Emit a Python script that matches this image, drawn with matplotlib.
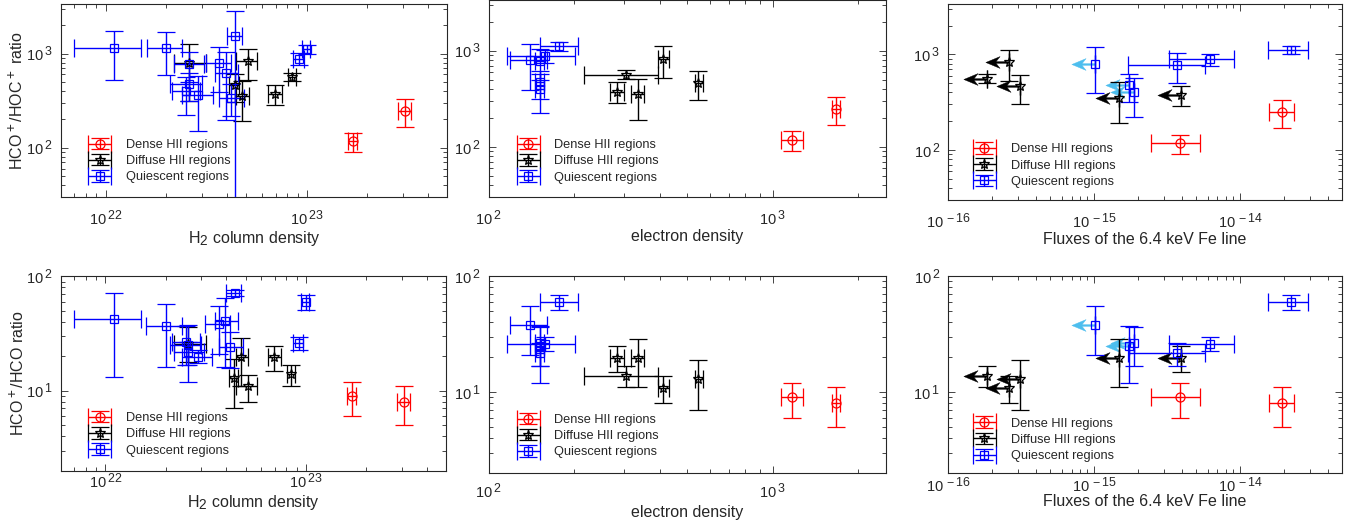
import numpy as np
import matplotlib
matplotlib.use("Agg")
import matplotlib.pyplot as plt
import matplotlib._mathtext as _mt
from matplotlib.path import Path
from matplotlib.markers import MarkerStyle
from matplotlib.ticker import FuncFormatter, FixedLocator, NullFormatter
from matplotlib.container import ErrorbarContainer
from matplotlib.legend_handler import HandlerErrorbar

nan = np.nan

# ---------------- Dense HII regions ----------------
dense_nh2 = [1.69e23, 3.07e23]
dense_nh2_lo = [1.61e23, 2.85e23]
dense_nh2_hi = [1.77e23, 3.30e23]
dense_ne = [1172, 1667]
dense_ne_lo = [1074, 1624]
dense_ne_hi = [1279, 1723]
dense_flux = [3.88e-15, 1.94e-14]
dense_flux_lo = [2.44e-15, 1.57e-14]
dense_flux_hi = [5.34e-15, 2.33e-14]
dense_flux_ul = [False, False]
dense_hoc = [118, 248]
dense_hoc_lo = [90, 168]
dense_hoc_hi = [145, 332]
dense_hco = [9.0, 8.0]
dense_hco_lo = [6.0, 5.0]
dense_hco_hi = [12.0, 11.0]

# ---------------- Diffuse HII regions ----------------
diff_nh2 = [2.59e22, 4.38e22, 4.77e22, 5.13e22, 6.95e22, 8.46e22]
diff_nh2_lo = [2.20e22, 4.12e22, 4.46e22, 4.46e22, 6.44e22, 8.09e22]
diff_nh2_hi = [3.17e22, 4.60e22, 5.17e22, 5.67e22, 7.50e22, 8.85e22]
diff_ne = [nan, 547, 335, 411, 283, 305]
diff_ne_lo = [nan, 531, 317, 394, 268, 216]
diff_ne_hi = [nan, 569, 351, 431, 299, 394]
diff_flux = [nan, 3.08e-16, 1.48e-15, 2.61e-16, 3.93e-15, 1.85e-16]
diff_flux_lo = [nan, 3.08e-16, 1.48e-15, 2.61e-16, 3.93e-15, 1.85e-16]
diff_flux_hi = [nan, 3.08e-16, 1.48e-15, 2.61e-16, 3.93e-15, 1.85e-16]
diff_flux_ul = [True, True, True, True, True, True]
diff_hoc = [786, 464, 352, 824, 373, 558]
diff_hoc_lo = [315, 306, 190, 523, 285, 507]
diff_hoc_hi = [1256, 612, 513, 1120, 469, 624]
diff_hco = [25.5, 13.0, 19.8, 10.9, 19.8, 13.9]
diff_hco_lo = [18.0, 7.0, 11.0, 8.0, 15.0, 11.1]
diff_hco_hi = [36.0, 19.0, 28.8, 13.8, 24.8, 16.9]

# ---------------- Quiescent regions ----------------
qui_nh2 = [1.10e22, 2.00e22, 4.41e22, 2.59e22, 2.59e22, 2.51e22,
           3.67e22, 3.95e22, 4.20e22, 9.20e22, 1.00e23, 2.89e22]
qui_nh2_lo = [6.97e21, 1.60e22, 4.00e22, 2.20e22, 2.10e22, 2.15e22,
              3.15e22, 3.50e22, 3.67e22, 8.59e22, 9.48e22, 2.40e22]
qui_nh2_hi = [1.50e22, 2.40e22, 4.76e22, 3.10e22, 3.00e22, 2.95e22,
              4.19e22, 4.57e22, 4.88e22, 9.66e22, 1.04e23, 3.40e22]
qui_ne = [nan, nan, nan, 151, 151, 151, 140, nan, nan, 158, 177, nan]
qui_ne_lo = [nan, nan, nan, 146, 146, 146, 119, nan, nan, 116, 151, nan]
qui_ne_hi = [nan, nan, nan, 156, 156, 156, 160, nan, nan, 202, 206, nan]
qui_flux = [nan, nan, nan, 3.69e-15, 1.73e-15, 1.88e-15, 1.02e-15, nan, nan,
            6.25e-15, 2.24e-14, nan]
qui_flux_lo = [nan, nan, nan, 1.71e-15, 1.73e-15, 1.88e-15, 1.02e-15, nan, nan,
               3.27e-15, 1.55e-14, nan]
qui_flux_hi = [nan, nan, nan, 5.74e-15, 1.73e-15, 1.88e-15, 1.02e-15, nan, nan,
               9.14e-15, 2.92e-14, nan]
qui_flux_ul = [False, False, False, False, True, True, True, False, False,
               False, False, False]
qui_hoc = [1140, 1158, 1539, 780, 473, 400, 800, 618, 341, 885, 1105, 364]
qui_hoc_lo = [518, 594, 1, 500, 315, 223, 390, 198, 215, 750, 1000, 151]
qui_hoc_hi = [1726, 1711, 2830, 1040, 622, 570, 1180, 1050, 470, 1005, 1220, 571]
qui_hco = [42.5, 36.7, 71.7, 21.6, 25.0, 26.7, 38.0, 40.6, 24.2, 25.9, 59.4, 19.9]
qui_hco_lo = [13.1, 16.2, 67.0, 16.8, 11.9, 16.8, 20.8, 16.0, 15.7, 22.5, 50.6, 17.6]
qui_hco_hi = [72.0, 57.4, 76.0, 26.7, 37.4, 36.6, 55.0, 64.9, 32.6, 29.6, 68.8, 22.6]

labels = ["Dense HII regions", "Diffuse HII regions", "Quiescent regions"]

# ---------------- styling ----------------
plt.rcParams['font.family'] = ['Liberation Sans', 'DejaVu Sans']
plt.rcParams['mathtext.fontset'] = 'custom'
plt.rcParams['mathtext.rm'] = 'Liberation Sans'
plt.rcParams['mathtext.it'] = 'Liberation Sans:italic'
plt.rcParams['mathtext.bf'] = 'Liberation Sans:bold'
_mt.SHRINK_FACTOR = 0.85   # larger super/subscripts, as in the reference
TXT = '#262626'

# leftward arrow marker (data point at origin, tip to the left)
arrow_verts = [(-1.0, 0.0), (-0.40, 0.25), (-0.57, 0.035), (0.0, 0.035),
               (0.0, -0.035), (-0.57, -0.035), (-0.40, -0.25), (-1.0, 0.0)]
arrow_codes = [Path.MOVETO] + [Path.LINETO] * 6 + [Path.CLOSEPOLY]
ARROW = MarkerStyle(Path(arrow_verts, arrow_codes))

fig = plt.figure(figsize=(13.57, 5.27), dpi=100)
W, H = 1357.0, 527.0


def add_ax(left, right, top, bottom):
    return fig.add_axes([left / W, 1 - bottom / H, (right - left) / W, (bottom - top) / H])


def fmt10(v, pos):
    e = int(round(np.log10(v)))
    return r'$\mathregular{10^{\,%d}}$' % e


def log_ticks(lo, hi):
    e0, e1 = int(np.floor(np.log10(lo))), int(np.ceil(np.log10(hi)))
    major = [10.0 ** e for e in range(e0, e1 + 1) if lo * 0.999 <= 10.0 ** e <= hi * 1.001]
    minor = [m * 10.0 ** e for e in range(e0, e1 + 1) for m in range(2, 10)
             if lo < m * 10.0 ** e < hi]
    return major, minor


def errplot(ax, x, xlo, xhi, y, ylo, yhi, color, marker, ms, label, ul=None, ulcolor=None):
    x = np.asarray(x, float); xlo = np.asarray(xlo, float); xhi = np.asarray(xhi, float)
    y = np.asarray(y, float); ylo = np.asarray(ylo, float); yhi = np.asarray(yhi, float)
    ok = np.isfinite(x) & np.isfinite(y)
    if ul is not None:
        ulm = np.asarray(ul, bool) & ok
        ax.plot(x[ulm], y[ulm], ls='none', marker=ARROW, ms=34, color=ulcolor,
                mec=ulcolor, mfc=ulcolor, mew=0.3, zorder=2)
    xerr = np.vstack([x - xlo, xhi - x])[:, ok]
    yerr = np.vstack([y - ylo, yhi - y])[:, ok]
    ax.errorbar(x[ok], y[ok], xerr=xerr, yerr=yerr, fmt=marker, color=color,
                mfc='none', mec=color, ms=ms, mew=0.9, elinewidth=1.0,
                capsize=6.5, capthick=1.0, label=label, zorder=3)


def style(ax, xlim, ylim, xlabel, ylabel, xpad, xlpad, leg_anchor):
    ax.set_xscale('log'); ax.set_yscale('log')
    ax.set_xlim(*xlim); ax.set_ylim(*ylim)
    for a, lim in ((ax.xaxis, xlim), (ax.yaxis, ylim)):
        major, minor = log_ticks(*lim)
        a.set_major_locator(FixedLocator(major))
        a.set_minor_locator(FixedLocator(minor))
        a.set_major_formatter(FuncFormatter(fmt10))
        a.set_minor_formatter(NullFormatter())
    ax.tick_params(which='both', direction='in', top=True, right=True,
                   color=TXT, labelcolor=TXT, width=0.6, labelsize=10.5)
    ax.tick_params(which='major', length=5)
    ax.tick_params(which='minor', length=2.8)
    ax.tick_params(axis='x', which='major', pad=xpad)
    ax.tick_params(axis='y', which='major', pad=6)
    for s in ax.spines.values():
        s.set_color(TXT); s.set_linewidth(0.8)
    ax.set_xlabel(xlabel, fontsize=11.5, color=TXT, labelpad=xlpad)
    if ylabel:
        ax.set_ylabel(ylabel, fontsize=11.5, color=TXT, labelpad=0)
    ax.legend(loc='center left', bbox_to_anchor=leg_anchor, frameon=False,
              fontsize=9.2, handlelength=1.9, handletextpad=1.1, labelspacing=0.33,
              borderpad=0, borderaxespad=0, labelcolor=TXT,
              handler_map={ErrorbarContainer: HandlerErrorbar(xerr_size=0.9, yerr_size=0.45)})


RED, BLACK, BLUE, LBLUE = '#ff0000', '#000000', '#0000ff', '#4dbeee'
nh2_lim = (6e21, 5e23)
ne_lim = (100, 2500)
flux_lim = (1e-16, 5e-14)
hoc_lim = (30, 3400)
hco_lim = (2, 100)
lab_nh2 = r'H$_2$ column density'
lab_ne = 'electron density'
lab_flux = 'Fluxes of the 6.4 keV Fe line'
lab_hoc = r'HCO$^+$/HOC$^+$ ratio'
lab_hco = r'HCO$^+$/HCO ratio'

xvars = [
    (dense_nh2, dense_nh2_lo, dense_nh2_hi, None,
     diff_nh2, diff_nh2_lo, diff_nh2_hi, None,
     qui_nh2, qui_nh2_lo, qui_nh2_hi, None, nh2_lim, lab_nh2),
    (dense_ne, dense_ne_lo, dense_ne_hi, None,
     diff_ne, diff_ne_lo, diff_ne_hi, None,
     qui_ne, qui_ne_lo, qui_ne_hi, None, ne_lim, lab_ne),
    (dense_flux, dense_flux_lo, dense_flux_hi, dense_flux_ul,
     diff_flux, diff_flux_lo, diff_flux_hi, diff_flux_ul,
     qui_flux, qui_flux_lo, qui_flux_hi, qui_flux_ul, flux_lim, lab_flux),
]
yvars = [
    (dense_hoc, dense_hoc_lo, dense_hoc_hi, diff_hoc, diff_hoc_lo, diff_hoc_hi,
     qui_hoc, qui_hoc_lo, qui_hoc_hi, hoc_lim, lab_hoc),
    (dense_hco, dense_hco_lo, dense_hco_hi, diff_hco, diff_hco_lo, diff_hco_hi,
     qui_hco, qui_hco_lo, qui_hco_hi, hco_lim, lab_hco),
]

# pixel boxes (left, right, top, bottom)
boxes = [
    [(61, 447.3, 3.5, 197.0), (488.7, 885.7, -0.5, 197.3), (948.3, 1342, 3.5, 200.0)],
    [(61, 446.0, 276.3, 470.7), (488.7, 885.7, 276.0, 473.3), (948.3, 1342, 276.0, 473.3)],
]
xpads = [[9, 9, 9], [1.0, 6.5, 2.0]]
xlpads = [[0, 0, 0], [1.5, 2.5, -0.5]]
leg_anchors = [[(0.069, 0.185), (0.069, 0.182), (0.061, 0.175)],
               [(0.069, 0.187), (0.069, 0.188), (0.061, 0.170)]]

for r, yv in enumerate(yvars):
    for c, xv in enumerate(xvars):
        ax = add_ax(*boxes[r][c])
        (dx, dxl, dxh, dul, fx, fxl, fxh, ful, qx, qxl, qxh, qul, xlim, xlab) = xv
        (dy, dyl, dyh, fy, fyl, fyh, qy, qyl, qyh, ylim, ylab) = yv
        errplot(ax, dx, dxl, dxh, dy, dyl, dyh, RED, 'o', 6.5, labels[0])
        errplot(ax, fx, fxl, fxh, fy, fyl, fyh, BLACK, '*', 7.5, labels[1], ful, BLACK)
        errplot(ax, qx, qxl, qxh, qy, qyl, qyh, BLUE, 's', 5.5, labels[2], qul, LBLUE)
        style(ax, xlim, ylim, xlab, ylab if c == 0 else None,
              xpads[r][c], xlpads[r][c], leg_anchors[r][c])

fig.savefig('out.png', dpi=100)
